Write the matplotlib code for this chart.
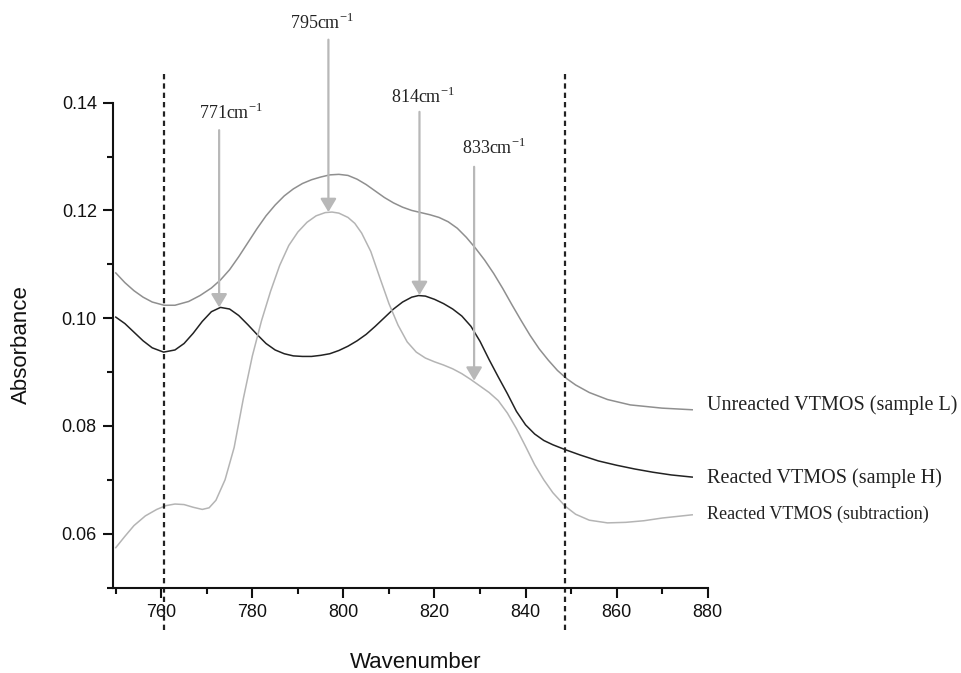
import matplotlib
matplotlib.use('Agg')
import matplotlib.pyplot as plt

plt.rcParams['font.family'] = ['Liberation Sans', 'DejaVu Sans']
plt.rcParams['mathtext.fontset'] = 'custom'
plt.rcParams['mathtext.rm'] = 'Liberation Serif'

# --------------------------------------------------
# data
# --------------------------------------------------
unreacted_x = [750, 752, 754, 756, 758, 760.6, 763, 766, 768.5, 771, 773, 775, 777,
               779, 781, 783, 785, 787, 789, 791, 793, 795, 797, 799, 801, 803, 805,
               807, 809, 811, 813, 815, 817, 819, 821, 823, 825, 827, 829, 831, 833,
               835, 837, 839, 841, 843, 845, 847, 849, 851, 854, 858, 863, 870, 876.6]
unreacted_y = [0.1084, 0.1066, 0.1051, 0.1039, 0.1030, 0.1024, 0.1024, 0.1031, 0.1042,
               0.1056, 0.1071, 0.1090, 0.1114, 0.1140, 0.1166, 0.1190, 0.1210, 0.1227,
               0.1240, 0.1250, 0.1257, 0.1262, 0.1266, 0.1267, 0.1265, 0.1258, 0.1248,
               0.1236, 0.1224, 0.1214, 0.1206, 0.1200, 0.1196, 0.1192, 0.1187, 0.1179,
               0.1167, 0.1150, 0.1130, 0.1108, 0.1083, 0.1055, 0.1025, 0.0996, 0.0968,
               0.0943, 0.0922, 0.0903, 0.0888, 0.0876, 0.0862, 0.0849, 0.0839, 0.0833,
               0.0830]

reacted_x = [750, 752, 754, 756, 758, 760.5, 763, 765, 767, 769, 771, 773, 775, 777,
             779, 781, 783, 785, 787, 789, 791, 793, 795, 797, 799, 801, 803, 805, 807,
             809, 811, 813, 815, 816.5, 818, 820, 822, 824, 826, 828, 830, 832, 834,
             836, 838, 840, 842, 844, 846, 848.7, 852, 856, 860, 864, 868, 872, 876.6]
reacted_y = [0.1002, 0.0990, 0.0974, 0.0958, 0.0945, 0.0937, 0.0941, 0.0953, 0.0972,
             0.0994, 0.1012, 0.1020, 0.1017, 0.1005, 0.0988, 0.0970, 0.0953, 0.0941,
             0.0934, 0.0930, 0.0929, 0.0929, 0.0931, 0.0934, 0.0940, 0.0948, 0.0958,
             0.0970, 0.0985, 0.1001, 0.1017, 0.1030, 0.1039, 0.1042, 0.1041, 0.1035,
             0.1027, 0.1017, 0.1004, 0.0985, 0.0957, 0.0923, 0.0891, 0.0860, 0.0827,
             0.0802, 0.0785, 0.0773, 0.0765, 0.0756, 0.0746, 0.0735, 0.0727, 0.0720,
             0.0714, 0.0709, 0.0705]

subtract_x = [750, 752, 754, 756.5, 759, 761, 763, 765, 767, 769, 770.5, 772, 774, 776,
              778, 780, 782, 784, 786, 788, 790, 792, 794, 796, 797.5, 799, 801, 802.5,
              804, 806, 808, 810, 812, 814, 816, 818, 820, 822, 824, 826, 828, 830, 832,
              834, 836, 838, 840, 842, 844, 846, 848.7, 851, 854, 858, 862, 866, 870,
              876.6]
subtract_y = [0.0574, 0.0595, 0.0615, 0.0633, 0.0645, 0.0652, 0.0655, 0.0654, 0.0649,
              0.0645, 0.0648, 0.0662, 0.0700, 0.0760, 0.0850, 0.0930, 0.0995, 0.1050,
              0.1098, 0.1135, 0.1160, 0.1178, 0.1190, 0.1196, 0.1197, 0.1195, 0.1187,
              0.1176, 0.1158, 0.1124, 0.1075, 0.1027, 0.0987, 0.0956, 0.0937, 0.0926,
              0.0919, 0.0913, 0.0906, 0.0897, 0.0886, 0.0874, 0.0862, 0.0847, 0.0824,
              0.0795, 0.0762, 0.0728, 0.0700, 0.0676, 0.0651, 0.0636, 0.0625, 0.0620,
              0.0621, 0.0624, 0.0629, 0.0635]

peak_labels = ['771', '795', '814', '833']
peak_tip_x = [772.7, 796.7, 816.7, 828.7]
peak_tip_y = [0.1020, 0.1197, 0.1043, 0.0884]
peak_top_y = [0.1349, 0.1517, 0.1383, 0.1281]
peak_text_x = [768.3, 788.3, 810.4, 826.0]
peak_text_y = [0.1381, 0.1548, 0.1411, 0.1316]

series_names = ['Unreacted VTMOS (sample L)', 'Reacted VTMOS (sample H)',
                'Reacted VTMOS (subtraction)']
series_label_y = [0.0838, 0.0704, 0.0636]
series_label_size = [14.5, 14.5, 13]

dashed_x = [760.6, 848.7]

# --------------------------------------------------
# plot
# --------------------------------------------------
fig = plt.figure(figsize=(9.61, 6.73), dpi=100)
ax = fig.add_axes([0.1181, 0.127, 0.6183, 0.7204])

ax.plot(unreacted_x, unreacted_y, color='#8f8f8f', lw=1.1)
ax.plot(reacted_x, reacted_y, color='#222222', lw=1.1)
ax.plot(subtract_x, subtract_y, color='#b4b4b4', lw=1.1)

for xd in dashed_x:
    ax.plot([xd, xd], [0.0421, 0.1455], color='#222222', lw=1.6,
            linestyle=(0, (2.4, 1.8)), clip_on=False)

for lab, tx, ty, top, ltx, lty in zip(peak_labels, peak_tip_x, peak_tip_y,
                                      peak_top_y, peak_text_x, peak_text_y):
    ax.annotate('', xy=(tx, ty), xytext=(tx, top),
                arrowprops=dict(arrowstyle='-|>,head_length=0.5,head_width=0.3',
                                color='#b8b8b8', lw=1.6,
                                mutation_scale=16, shrinkA=0, shrinkB=0),
                annotation_clip=False)
    ax.text(ltx, lty, lab + r'cm$^{\mathrm{-1}}$', family='Liberation Serif',
            fontsize=13, color='#222222', ha='left', va='center', clip_on=False)

for name, ly, fs in zip(series_names, series_label_y, series_label_size):
    ax.text(879.9, ly, name, family='Liberation Serif', fontsize=fs,
            color='#222222', ha='left', va='center', clip_on=False)

ax.set_xlim(749.5, 880)
ax.set_ylim(0.05, 0.14)
ax.set_xticks([760, 780, 800, 820, 840, 860, 880])
ax.set_xticks([750, 770, 790, 810, 830, 850, 870], minor=True)
ax.set_yticks([0.06, 0.08, 0.10, 0.12, 0.14])
ax.set_yticklabels(['0.06', '0.08', '0.10', '0.12', '0.14'])
ax.set_yticks([0.05, 0.07, 0.09, 0.11, 0.13], minor=True)

for side in ['top', 'right']:
    ax.spines[side].set_visible(False)
for side in ['left', 'bottom']:
    ax.spines[side].set_linewidth(1.5)
    ax.spines[side].set_color('#111111')

ax.tick_params(which='major', direction='out', length=7, width=1.5,
               labelsize=13, colors='#111111', pad=5)
ax.tick_params(which='minor', direction='out', length=4.5, width=1.5,
               colors='#111111')

fig.text(416 / 961, 1 - 663 / 673, 'Wavenumber', fontsize=16,
         ha='center', va='center', color='#111111')
fig.text(21.7 / 961, 1 - 345 / 673, 'Absorbance', fontsize=16, rotation=90,
         ha='center', va='center', color='#111111')

fig.savefig('out.png', dpi=100)
